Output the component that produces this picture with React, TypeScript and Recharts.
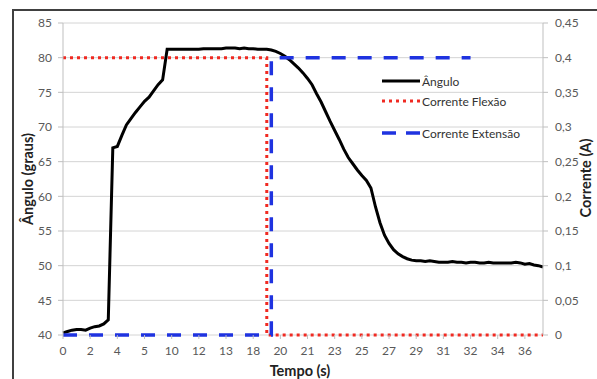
import React from 'react';
import { LineChart, Line, XAxis, YAxis, CartesianGrid } from 'recharts';

// Sample index -> tick label (every 6th sample carries a label)
const tempoLabels = ['0', '2', '4', '5', '10', '12', '13', '18', '20', '21', '23', '25', '27', '29', '31', '32', '34', '36'];
const labelStep = 6;

const anguloValues = [
  40.3, 40.5, 40.7, 40.8, 40.8, 40.7, 41.0, 41.2, 41.3, 41.6,
  42.2, 67.0, 67.2, 68.8, 70.3, 71.2, 72.1, 72.9, 73.7, 74.3,
  75.2, 76.1, 76.8, 81.2, 81.2, 81.2, 81.2, 81.2, 81.2, 81.2,
  81.2, 81.3, 81.3, 81.3, 81.3, 81.3, 81.4, 81.4, 81.4, 81.3,
  81.4, 81.3, 81.3, 81.2, 81.2, 81.2, 81.1, 80.9, 80.6, 80.2,
  79.7, 79.1, 78.5, 77.8, 77.0, 76.1, 74.8, 73.6, 72.2, 70.8,
  69.5, 68.2, 66.8, 65.6, 64.7, 63.8, 63.0, 62.3, 61.2, 58.5,
  56.2, 54.4, 53.2, 52.3, 51.7, 51.3, 51.0, 50.8, 50.7, 50.7,
  50.6, 50.7, 50.6, 50.5, 50.5, 50.5, 50.6, 50.5, 50.5, 50.4,
  50.5, 50.5, 50.4, 50.4, 50.5, 50.4, 50.4, 50.4, 50.4, 50.4,
  50.5, 50.4, 50.2, 50.3, 50.1, 50.0, 49.8,
];

const flexaoValues = [
  0.4, 0.4, 0.4, 0.4, 0.4, 0.4, 0.4, 0.4, 0.4, 0.4,
  0.4, 0.4, 0.4, 0.4, 0.4, 0.4, 0.4, 0.4, 0.4, 0.4,
  0.4, 0.4, 0.4, 0.4, 0.4, 0.4, 0.4, 0.4, 0.4, 0.4,
  0.4, 0.4, 0.4, 0.4, 0.4, 0.4, 0.4, 0.4, 0.4, 0.4,
  0.4, 0.4, 0.4, 0.4, 0.4, 0, 0, 0, 0, 0,
  0, 0, 0, 0, 0, 0, 0, 0, 0, 0,
  0, 0, 0, 0, 0, 0, 0, 0, 0, 0,
  0, 0, 0, 0, 0, 0, 0, 0, 0, 0,
  0, 0, 0, 0, 0, 0, 0, 0, 0, 0,
  0, 0, 0, 0, 0, 0, 0, 0, 0, 0,
  0, 0, 0, 0, 0, 0, 0,
];

const extensaoValues = [
  0, 0, 0, 0, 0, 0, 0, 0, 0, 0,
  0, 0, 0, 0, 0, 0, 0, 0, 0, 0,
  0, 0, 0, 0, 0, 0, 0, 0, 0, 0,
  0, 0, 0, 0, 0, 0, 0, 0, 0, 0,
  0, 0, 0, 0, 0, 0, 0.4, 0.4, 0.4, 0.4,
  0.4, 0.4, 0.4, 0.4, 0.4, 0.4, 0.4, 0.4, 0.4, 0.4,
  0.4, 0.4, 0.4, 0.4, 0.4, 0.4, 0.4, 0.4, 0.4, 0.4,
  0.4, 0.4, 0.4, 0.4, 0.4, 0.4, 0.4, 0.4, 0.4, 0.4,
  0.4, 0.4, 0.4, 0.4, 0.4, 0.4, 0.4, 0.4, 0.4, 0.4,
  0.4, null, null, null, null, null, null, null, null, null,
  null, null, null, null, null, null, null,
];

const anguloTicks = [40, 45, 50, 55, 60, 65, 70, 75, 80, 85];
const correnteTicks = [0, 0.05, 0.1, 0.15, 0.2, 0.25, 0.3, 0.35, 0.4, 0.45];

const seriesNames = ['Ângulo', 'Corrente Flexão', 'Corrente Extensão'];

const rows = anguloValues.map((a, i) => ({
  i,
  angulo: a,
  flexao: flexaoValues[i],
  extensao: extensaoValues[i],
}));

const FONT = "Lato, 'Open Sans', sans-serif";
const BLACK = '#000000';
const RED = '#f02a22';
const BLUE = '#1f33e0';

const fmtCorrente = (v: number) => (v === 0 ? '0' : String(+v.toFixed(2)).replace('.', ','));

const LegendRow = ({ y, kind, label }: { y: number; kind: number; label: string }) => (
  <div style={{ position: 'absolute', left: 382, top: y - 9, height: 18, display: 'flex', alignItems: 'center' }}>
    <svg width={38} height={10} style={{ display: 'block' }}>
      {kind === 0 && <line x1={0} y1={5} x2={38} y2={5} stroke={BLACK} strokeWidth={3} />}
      {kind === 1 && <line x1={0} y1={5} x2={38} y2={5} stroke={RED} strokeWidth={3} strokeDasharray="3 4" />}
      {kind === 2 && <line x1={0} y1={5} x2={38} y2={5} stroke={BLUE} strokeWidth={3.5} strokeDasharray="14 10" />}
    </svg>
    <span style={{ marginLeft: 2, fontSize: 12, color: '#333', fontFamily: FONT, whiteSpace: 'nowrap' }}>{label}</span>
  </div>
);

export default function App() {
  return (
    <div style={{ position: 'fixed', left: 0, top: 0, width: 597, height: 379, overflow: 'hidden', background: '#fff' }}>
      <div style={{ position: 'absolute', left: 12, top: 9, width: 700, height: 500, border: '2px solid #404040', boxSizing: 'border-box' }} />
      <div style={{ position: 'absolute', left: 0, top: 0 }}>
        <LineChart
          width={597}
          height={379}
          data={rows}
          margin={{ top: 23, right: 14, bottom: 14, left: 0 }}
          style={{ fontFamily: FONT }}
        >
          <CartesianGrid yAxisId="left" vertical={false} horizontal stroke="#d4d4d4" strokeWidth={1} />
          <XAxis
            dataKey="i"
            type="number"
            domain={[0, anguloValues.length - 1]}
            ticks={tempoLabels.map((_, k) => k * labelStep)}
            tickFormatter={(v: number) => tempoLabels[Math.round(v / labelStep)]}
            interval={0}
            height={30}
            axisLine={false}
            tickLine={{ stroke: '#bfbfbf' }}
            tickSize={4}
            tickMargin={7}
            tick={{ fill: '#595959', fontSize: 12 }}
          />
          <YAxis
            yAxisId="left"
            width={63}
            domain={[40, 85]}
            ticks={anguloTicks}
            interval={0}
            axisLine={{ stroke: '#bfbfbf' }}
            tickLine={{ stroke: '#bfbfbf' }}
            tickSize={5}
            tickMargin={6}
            tick={{ fill: '#595959', fontSize: 12 }}
          />
          <YAxis
            yAxisId="right"
            orientation="right"
            width={40}
            domain={[0, 0.45]}
            ticks={correnteTicks}
            interval={0}
            tickFormatter={fmtCorrente}
            axisLine={{ stroke: '#bfbfbf' }}
            tickLine={{ stroke: '#bfbfbf' }}
            tickSize={5}
            tickMargin={7}
            tick={{ fill: '#595959', fontSize: 12 }}
          />
          <Line
            yAxisId="left"
            dataKey="angulo"
            name={seriesNames[0]}
            type="linear"
            stroke={BLACK}
            strokeWidth={3}
            dot={false}
            activeDot={false}
            isAnimationActive={false}
          />
          <Line
            yAxisId="right"
            dataKey="flexao"
            name={seriesNames[1]}
            type="stepAfter"
            stroke={RED}
            strokeWidth={3}
            strokeDasharray="3 4"
            dot={false}
            activeDot={false}
            isAnimationActive={false}
          />
          <Line
            yAxisId="right"
            dataKey="extensao"
            name={seriesNames[2]}
            type="stepAfter"
            stroke={BLUE}
            strokeWidth={3.5}
            strokeDasharray="14 12"
            dot={false}
            activeDot={false}
            connectNulls={false}
            isAnimationActive={false}
          />
        </LineChart>
      </div>
      <LegendRow y={81} kind={0} label={seriesNames[0]} />
      <LegendRow y={101} kind={1} label={seriesNames[1]} />
      <LegendRow y={133} kind={2} label={seriesNames[2]} />
      <div
        style={{
          position: 'absolute', left: 27, top: 179, transform: 'translate(-50%, -50%) rotate(-90deg)',
          fontFamily: FONT, fontWeight: 700, fontSize: 14.5, color: '#222', whiteSpace: 'nowrap',
        }}
      >
        Ângulo (graus)
      </div>
      <div
        style={{
          position: 'absolute', left: 585, top: 178, transform: 'translate(-50%, -50%) rotate(-90deg)',
          fontFamily: FONT, fontWeight: 700, fontSize: 14.5, color: '#222', whiteSpace: 'nowrap',
        }}
      >
        Corrente (A)
      </div>
      <div
        style={{
          position: 'absolute', left: 300, top: 370, transform: 'translate(-50%, -50%)',
          fontFamily: FONT, fontWeight: 700, fontSize: 14.5, color: '#222', whiteSpace: 'nowrap',
        }}
      >
        Tempo (s)
      </div>
    </div>
  );
}
